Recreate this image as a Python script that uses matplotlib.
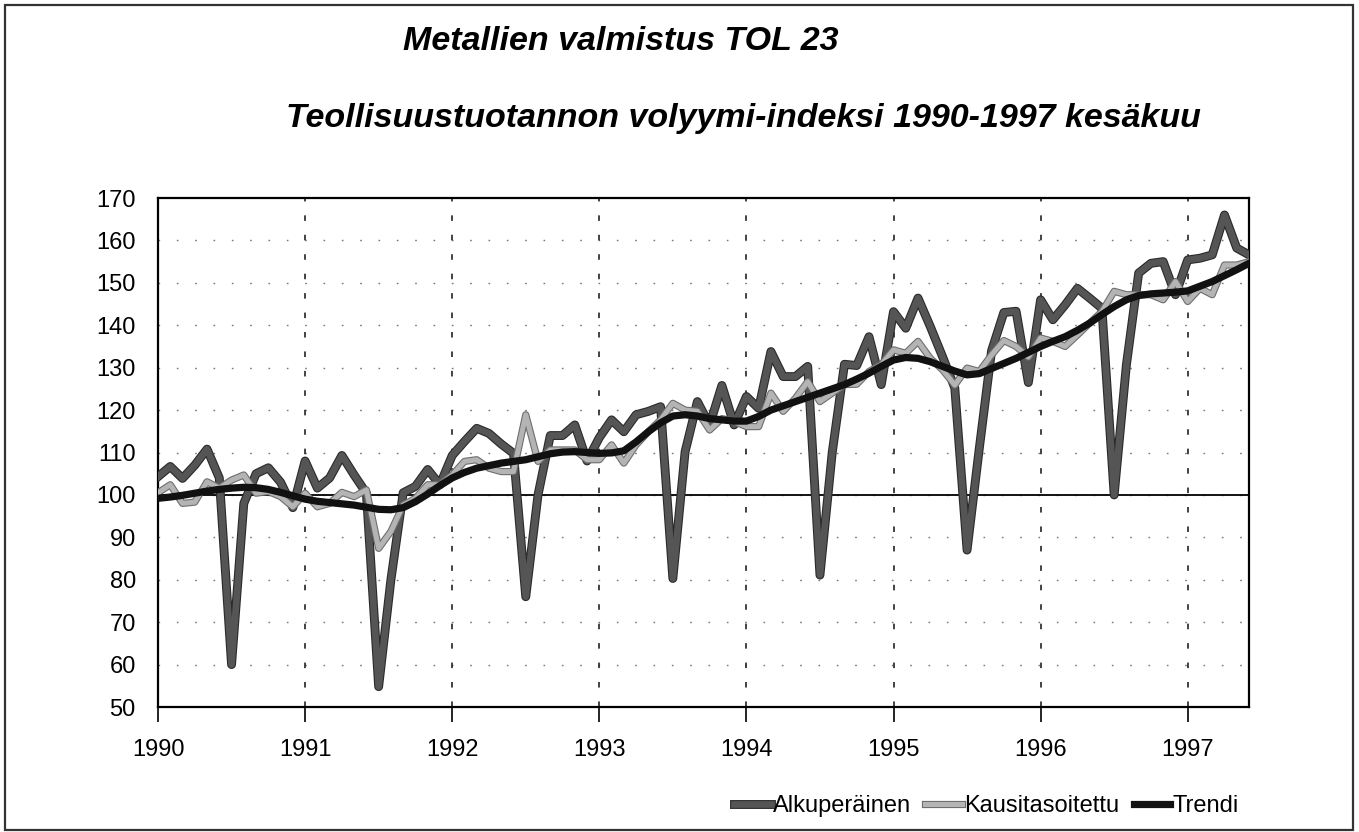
#!/usr/bin/env python
# Metallien valmistus TOL 23 - volume index, monthly 1990 - 6/1997
import numpy as np
import matplotlib
matplotlib.use("Agg")
import matplotlib.pyplot as plt
import matplotlib.patheffects as pe
from matplotlib.patches import Rectangle

plt.rcParams['font.family'] = ['Liberation Sans', 'DejaVu Sans']
plt.rcParams['lines.scale_dashes'] = False

years = ['1990', '1991', '1992', '1993', '1994', '1995', '1996', '1997']

alkuperainen = [104.3, 106.7, 103.9, 107.0, 110.8, 104.0, 60.0, 98.0, 105.0, 106.4, 103.0, 97.0,
                108.0, 101.6, 104.0, 109.3, 104.7, 100.4, 54.8, 80.0, 100.5, 102.0, 106.0, 102.4,
                109.3, 112.6, 115.7, 114.5, 112.0, 109.8, 76.0, 100.0, 114.0, 114.0, 116.5, 108.0,
                113.5, 117.7, 114.9, 118.9, 119.7, 120.8, 80.3, 110.2, 122.0, 116.5, 125.8, 116.5,
                123.2, 120.4, 133.8, 127.9, 127.9, 130.3, 81.1, 110.0, 130.8, 130.5, 137.3, 126.0,
                143.2, 139.3, 146.4, 139.7, 132.6, 125.2, 87.0, 111.0, 134.0, 143.0, 143.3, 126.5,
                146.0, 141.3, 144.8, 148.7, 146.4, 144.0, 100.0, 130.7, 152.3, 154.6, 155.0, 147.2,
                155.4, 155.8, 156.6, 166.0, 158.2, 156.6]

kausitasoitettu = [100.5, 102.4, 98.0, 98.3, 103.1, 101.6, 103.5, 104.7, 100.4, 100.8, 99.6, 97.2,
                   100.4, 97.2, 98.0, 100.6, 99.6, 101.2, 87.4, 91.4, 97.6, 99.2, 102.4, 102.4,
                   104.7, 107.9, 108.3, 106.3, 105.5, 105.5, 118.9, 107.9, 110.6, 110.6, 110.6, 108.3,
                   108.3, 111.8, 107.5, 111.8, 114.9, 117.7, 121.6, 120.0, 119.7, 115.3, 118.0, 117.3,
                   116.1, 116.1, 124.0, 119.7, 122.8, 126.7, 122.0, 124.0, 126.0, 126.1, 129.1, 130.7,
                   134.2, 133.4, 136.2, 132.2, 129.5, 125.9, 129.9, 129.1, 133.0, 136.4, 135.0, 132.5,
                   137.0, 136.2, 135.0, 137.7, 140.5, 143.2, 148.0, 147.2, 147.2, 147.2, 146.0, 150.3,
                   145.6, 148.7, 147.2, 154.2, 154.2, 155.0]

trendi = [99.2, 99.5, 99.9, 100.4, 100.9, 101.3, 101.6, 101.8, 101.7, 101.3, 100.6, 99.8,
          99.0, 98.5, 98.2, 97.9, 97.6, 97.1, 96.6, 96.5, 97.0, 98.4, 100.2, 102.2,
          104.0, 105.3, 106.3, 106.9, 107.5, 107.9, 108.3, 109.0, 109.7, 110.1, 110.2, 110.0,
          109.8, 109.9, 110.4, 112.5, 114.9, 117.0, 118.6, 118.9, 118.6, 118.0, 117.7, 117.4,
          117.4, 118.5, 120.0, 121.0, 122.0, 123.0, 124.0, 125.0, 126.0, 127.3, 128.7, 130.3,
          131.8, 132.4, 132.2, 131.4, 130.3, 129.2, 128.3, 128.6, 129.8, 131.0, 132.2, 133.6,
          135.0, 136.2, 137.3, 138.8, 140.5, 142.5, 144.4, 146.0, 147.0, 147.4, 147.6, 147.8,
          148.1, 149.2, 150.3, 151.7, 153.1, 154.6]

W, H = 1359, 832
fig = plt.figure(figsize=(W / 100, H / 100), dpi=100)
ax = fig.add_axes([158 / W, 1 - 707 / H, (1249 - 158) / W, (707 - 198) / H])

x = np.arange(len(alkuperainen))

# grid: sparse dots for values, dashes for years
for v in range(60, 170, 10):
    ax.axhline(v, color='#777777', lw=1.0, ls=(0, (1.2, 12)), zorder=1)
for k in range(1, len(years)):
    ax.axvline(12 * k, color='#222222', lw=1.2, ls=(0, (4, 10)), zorder=1)
ax.axhline(100, color='black', lw=1.3, zorder=2)

l1, = ax.plot(x, alkuperainen, color='#555555', lw=4.8, zorder=3,
              path_effects=[pe.Stroke(linewidth=6.4, foreground='#2a2a2a'), pe.Normal()])
l2, = ax.plot(x, kausitasoitettu, color='#b4b4b4', lw=3.6, zorder=4,
              path_effects=[pe.Stroke(linewidth=5.2, foreground='#6e6e6e'), pe.Normal()])
l3, = ax.plot(x, trendi, color='#111111', lw=5.2, zorder=5)

ax.set_xlim(0, len(x) - 1)
ax.set_ylim(50, 170)
ax.set_yticks(range(50, 171, 10))
ax.set_xticks(range(0, len(x), 12))
ax.set_xticklabels(years)
ax.tick_params(axis='x', direction='out', length=11, width=1.2, pad=12, labelsize=17)
ax.tick_params(axis='y', length=0, pad=16, labelsize=17)
for s in ax.spines.values():
    s.set_linewidth(1.6)

fig.text(403 / W, 1 - 42 / H, 'Metallien valmistus TOL 23', fontsize=24.5,
         fontweight='bold', fontstyle='italic', ha='left', va='center')
fig.text(286 / W, 1 - 118 / H, 'Teollisuustuotannon volyymi-indeksi 1990-1997 kesäkuu',
         fontsize=24.5, fontweight='bold', fontstyle='italic', ha='left', va='center')

leg = fig.legend([l1, l2, l3], ['Alkuperäinen', 'Kausitasoitettu', 'Trendi'],
                 loc='center left', bbox_to_anchor=(734 / W, 1 - 806 / H), ncol=3,
                 frameon=False, fontsize=17, handlelength=1.55, handletextpad=0.1,
                 columnspacing=0.6, borderpad=0, borderaxespad=0)

fig.patches.append(Rectangle((5 / W, 2 / H), 1348 / W, 825 / H, transform=fig.transFigure,
                             fill=False, ec='#333333', lw=1.6))

fig.savefig('out.png', dpi=100)
